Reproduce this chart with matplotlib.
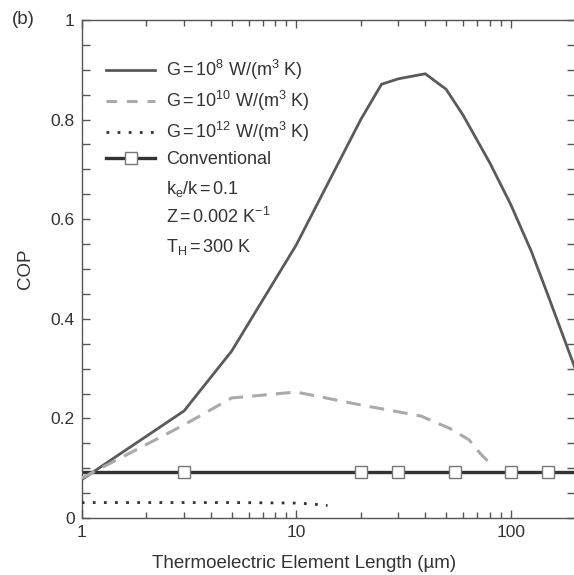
import numpy as np
import matplotlib
matplotlib.use("Agg")
import matplotlib.pyplot as plt
from matplotlib.lines import Line2D
from matplotlib.ticker import FixedLocator, FuncFormatter, LogLocator, NullFormatter

plt.rcParams["font.family"] = ["Liberation Sans", "DejaVu Sans"]
plt.rcParams["mathtext.fontset"] = "custom"
plt.rcParams["mathtext.rm"] = "Liberation Sans"
plt.rcParams["mathtext.it"] = "Liberation Sans:italic"

# G = 1e8 W/(m3 K)
len_g8 = [1, 3, 5, 10, 20, 25, 30, 40, 50, 60, 80, 100, 125, 150, 200]
cop_g8 = [0.077, 0.215, 0.335, 0.548, 0.80, 0.871, 0.882, 0.892, 0.861, 0.809, 0.713, 0.63, 0.535, 0.445, 0.30]

# G = 1e10 W/(m3 K)
len_g10 = [1, 3, 5, 10, 20, 38, 52, 64, 72, 80]
cop_g10 = [0.08, 0.187, 0.241, 0.253, 0.227, 0.205, 0.18, 0.157, 0.13, 0.11]

# G = 1e12 W/(m3 K)
len_g12 = [1, 5, 10, 12, 14]
cop_g12 = [0.031, 0.031, 0.030, 0.028, 0.025]

# conventional device
len_conv = [1, 200]
cop_conv = [0.092, 0.092]
len_conv_marks = [3, 20, 30, 55, 100, 150]

legend_labels = [
    r"G$\,$=$\,$10$^{8}$ W/(m$^{3}$ K)",
    r"G$\,$=$\,$10$^{10}$ W/(m$^{3}$ K)",
    r"G$\,$=$\,$10$^{12}$ W/(m$^{3}$ K)",
    "Conventional",
]
param_notes = [
    r"k$_{\mathrm{e}}$/k$\,$=$\,$0.1",
    r"Z$\,$=$\,$0.002 K$^{-1}$",
    r"T$_{\mathrm{H}}$$\,$=$\,$300 K",
]

fig = plt.figure(figsize=(5.74, 5.75), dpi=100)
ax = fig.add_axes([81.7 / 574, 57 / 575, 493.5 / 574, 498 / 575])

c_line = "#5a5a5a"
ax.plot(len_g8, cop_g8, color=c_line, lw=2.0, solid_joinstyle="miter", zorder=3)
ax.plot(len_g10, cop_g10, color="#aaaaaa", lw=2.2, dashes=(4.8, 3.0), zorder=3)
ax.plot(len_g12, cop_g12, color="#333333", lw=2.0, dashes=(1, 3), zorder=3)
ax.plot(len_conv, cop_conv, color="#333333", lw=2.4, zorder=2)
ax.plot(len_conv_marks, [cop_conv[0]] * len(len_conv_marks), ls="none", marker="s",
        ms=8.5, mfc="white", mec="#777777", mew=1.0, zorder=4)

ax.set_xscale("log")
ax.set_xlim(1, 200)
ax.set_ylim(0, 1)

ax.xaxis.set_major_locator(FixedLocator([1, 10, 100]))
ax.xaxis.set_major_formatter(FuncFormatter(lambda v, p: "%d" % v))
ax.xaxis.set_minor_locator(LogLocator(base=10, subs=np.arange(2, 10)))
ax.xaxis.set_minor_formatter(NullFormatter())
ax.yaxis.set_major_locator(FixedLocator([0, 0.2, 0.4, 0.6, 0.8, 1.0]))
ax.yaxis.set_minor_locator(FixedLocator(np.arange(0.05, 1.0, 0.05)))
ax.yaxis.set_major_formatter(FuncFormatter(lambda v, p: "0" if v == 0 else ("1" if v == 1 else "%.1f" % v)))

for s in ax.spines.values():
    s.set_color("#555555")
    s.set_linewidth(1.0)
ax.tick_params(which="both", direction="in", top=True, right=True, color="#555555",
               labelcolor="#333333", labelsize=12.5, pad=5)
ax.tick_params(which="major", length=6, width=1.0)
ax.tick_params(which="minor", length=4, width=1.0)
ax.tick_params(axis="y", which="minor", length=5.5)

ax.set_xlabel("Thermoelectric Element Length (\u00b5m)", fontsize=13.5, color="#333333", labelpad=10)
ax.xaxis.set_label_coords((304 - 81.7) / 493.5, -0.075)
ax.set_ylabel("COP", fontsize=13.5, color="#333333", labelpad=12)
fig.text(12 / 574, 1 - 20 / 575, "(b)", fontsize=13.5, color="#333333", va="center", ha="left")

handles = [
    Line2D([0], [0], color=c_line, lw=2.0),
    Line2D([0], [0], color="#aaaaaa", lw=2.2, dashes=(3.5, 3.2)),
    Line2D([0], [0], color="#333333", lw=2.0, dashes=(1, 3)),
    Line2D([0], [0], color="#333333", lw=2.4, marker="s", ms=8.5, mfc="white", mec="#777777", mew=1.0),
]
leg = ax.legend(handles, legend_labels, loc="upper left", bbox_to_anchor=(0.035, 0.938),
                frameon=False, fontsize=13, handlelength=2.7, handletextpad=0.6,
                labelspacing=0.38, borderaxespad=0)
for t in leg.get_texts():
    t.set_color("#333333")

# parameter notes under the legend, baselines in pixels from the top
for note, base in zip(param_notes, [194, 223, 252]):
    fig.text(166 / 574, 1 - base / 575, note, fontsize=13, color="#333333",
             ha="left", va="baseline")

fig.savefig("out.png", dpi=100)
